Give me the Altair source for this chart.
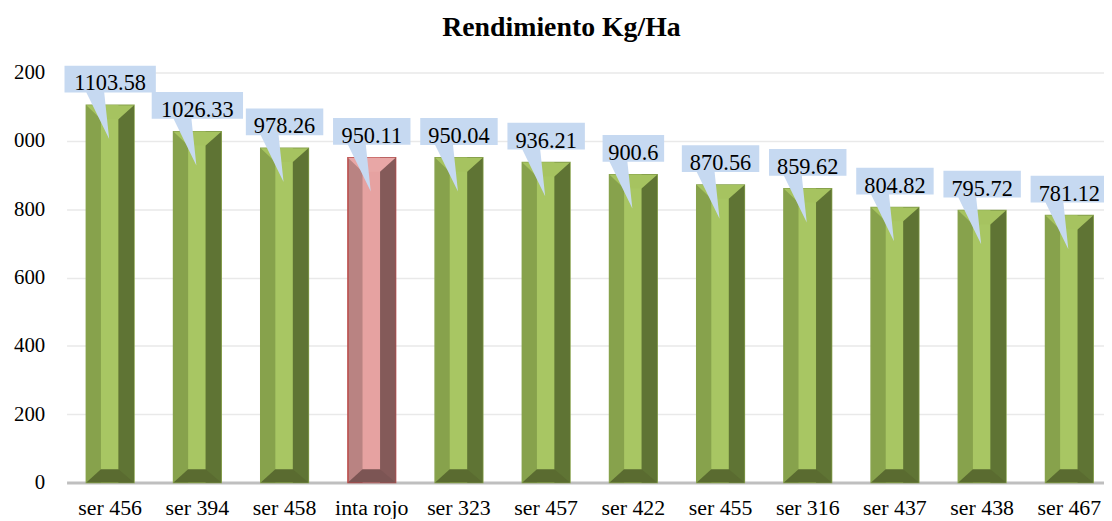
import altair as alt
import pandas as pd

variedades = ["ser 456", "ser 394", "ser 458", "inta rojo", "ser 323", "ser 457",
              "ser 422", "ser 455", "ser 316", "ser 437", "ser 438", "ser 467"]
rendimiento = [1103.58, 1026.33, 978.26, 950.11, 950.04, 936.21,
               900.6, 870.56, 859.62, 804.82, 795.72, 781.12]
tipo = ["ser", "ser", "ser", "testigo", "ser", "ser",
        "ser", "ser", "ser", "ser", "ser", "ser"]
etiquetas = [str(v) for v in rendimiento]

df = pd.DataFrame({"variedad": variedades, "rendimiento": rendimiento,
                   "tipo": tipo, "etiqueta": etiquetas})

FONT = "'Liberation Serif', Tinos, 'Times New Roman', 'Noto Serif', 'DejaVu Serif', FreeSerif, Times, serif"
TEST = "datum.tipo == 'testigo'"

def cond(red, green):
    return alt.condition(TEST, alt.value(red), alt.value(green))

# callout path (unit = 50 px, size 10000)
def callout(w):
    u = 50.0
    pts = [(-w / 2, -40), (w / 2, -40), (w / 2, -13), (-6, -13), (-1, 34), (-24, -13), (-w / 2, -13)]
    s = "M" + " L".join(f"{x/u:.3f},{y/u:.3f}" for x, y in pts) + " Z"
    return s

TOP_BEVEL = "M-1,0 L1,0 L0.346,0.583 L-0.388,0.583 Z"
BOT_BEVEL = "M-0.388,-0.55 L0.346,-0.55 L1,0 L-1,0 Z"

X = alt.X("variedad:N", sort=variedades,
          scale=alt.Scale(domain=variedades, range=[0, 1054], paddingInner=0, paddingOuter=0),
          axis=alt.Axis(title=None, labelAngle=0, ticks=False, domainColor="#bfbfbf", domainWidth=3,
                        labelFont=FONT, labelFontSize=22, labelColor="black", labelPadding=15,
                        grid=False))
yaxis = alt.Axis(title=None, values=[0, 200, 400, 600, 800, 1000, 1200], format="d",
                 labelExpr="datum.value >= 1000 ? substring(datum.label, 1) : datum.label",
                 domain=False, ticks=False, grid=True, gridColor="#e9e9e9", gridWidth=1.5,
                 labelFont=FONT, labelFontSize=21, labelColor="black", labelPadding=22)
Y = alt.Y("rendimiento:Q", scale=alt.Scale(domain=[0, 1200], nice=False), axis=yaxis)

base = alt.Chart(df).encode(x=X)

left = base.mark_bar(width=48, strokeWidth=1.5).encode(
    y=Y, color=cond("#b98382", "#87a24c"), stroke=cond("#b94a48", "#87a24c"))
center = base.mark_bar(width=17.6, xOffset=-0.5).encode(y=Y, color=cond("#e6a2a1", "#a8c663"))
right = base.mark_bar(width=15.6, xOffset=16.2).encode(y=Y, color=cond("#845a59", "#5f7434"))
top = base.mark_point(shape=TOP_BEVEL, size=2304, filled=True, opacity=1, strokeWidth=0).encode(
    y=Y, color=cond("#e8a7a6", "#a6c360"))
bottom = base.transform_calculate(cero="0").mark_point(
    shape=BOT_BEVEL, size=2304, filled=True, opacity=1, strokeWidth=0).encode(
    y=alt.Y("cero:Q", scale=alt.Scale(domain=[0, 1200], nice=False), axis=yaxis),
    color=cond("#7c5554", "#5a6b30"))
callouts = base.transform_calculate(nchar="length(datum.etiqueta)").mark_point(
    size=10000, filled=True, opacity=1, strokeWidth=0, color="#c6d9f1").encode(
    y=Y,
    shape=alt.Shape("nchar:O", scale=alt.Scale(domain=[5, 6, 7],
                                               range=[callout(62), callout(78), callout(92)]),
                    legend=None))
labels = base.mark_text(dy=-15, baseline="alphabetic", fontSize=22.5, font=FONT, color="black").encode(
    y=Y, text="etiqueta:N")

chart = alt.layer(left, center, right, top, bottom, callouts, labels).properties(
    width=1045, height=413,
    title=alt.TitleParams("Rendimiento Kg/Ha", font=FONT, fontSize=28, fontWeight="bold",
                          color="black", anchor="middle", dx=-24, offset=-2, baseline="alphabetic"),
    autosize=alt.AutoSizeParams(type="none"),
    padding={"left": 59, "top": 63, "right": 0, "bottom": 35},
).configure_view(strokeWidth=0)

chart.save("out.html", embed_options={"renderer": "svg", "actions": False})
